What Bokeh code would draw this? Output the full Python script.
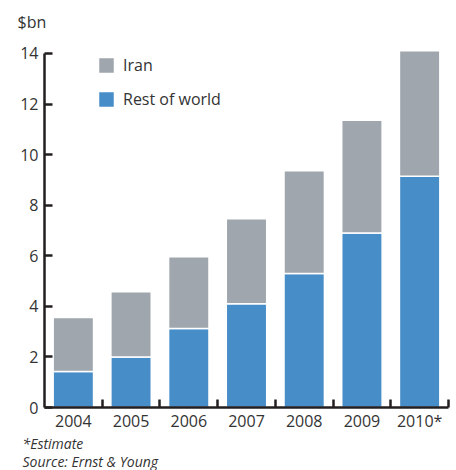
from bokeh.plotting import figure
from bokeh.models import (Range1d, FixedTicker, Legend, LegendItem, Title,
                          ColumnDataSource)
from bokeh.embed import file_html
from bokeh.resources import INLINE

# Investment by year, $bn
years = ["2004", "2005", "2006", "2007", "2008", "2009", "2010*"]
rest_of_world = [1.42, 2.0, 3.12, 4.1, 5.3, 6.9, 9.14]
iran = [2.14, 2.58, 2.84, 3.36, 4.06, 4.46, 4.97]
y_ticks = [0, 2, 4, 6, 8, 10, 12, 14]

GREY = "#9fa6ad"
BLUE = "#478dc8"
INK = "#231f20"
TEXT = "#333333"
FONT = "Open Sans"

n = len(years)
centers = [i + 0.5 for i in range(n)]
bounds = [i + 1 for i in range(n)]

src = ColumnDataSource(dict(x=centers, rest=rest_of_world, iran=iran))

p = figure(width=456, height=470, output_backend="svg", toolbar_location=None,
           x_range=Range1d(0, n), y_range=Range1d(0, 14.59),
           min_border_left=44, min_border_right=8, min_border_top=38,
           min_border_bottom=0)

rs = p.vbar_stack(["rest", "iran"], x="x", width=0.7, source=src,
                  color=[BLUE, GREY], line_color="white", line_width=1.5)

p.title.text = "$bn"
p.title.align = "left"
p.title.offset = -27
p.title.text_font = FONT
p.title.text_font_size = "16px"
p.title.text_font_style = "normal"
p.title.text_color = TEXT
p.title.standoff = 11

p.grid.visible = False
p.outline_line_color = None

# x axis: labels at bar centres, small upward ticks between the years
xa = p.xaxis[0]
xa.ticker = FixedTicker(ticks=centers, minor_ticks=bounds)
xa.major_label_overrides = {c: y for c, y in zip(centers, years)}
xa.major_tick_in = 0
xa.major_tick_out = 0
xa.minor_tick_in = 8
xa.minor_tick_out = 0
xa.minor_tick_line_color = INK
xa.minor_tick_line_width = 2.5
xa.axis_line_color = INK
xa.axis_line_width = 2.5
xa.major_label_text_font = FONT
xa.major_label_text_font_size = "16px"
xa.major_label_text_color = TEXT
xa.major_label_standoff = 2

ya = p.yaxis[0]
ya.ticker = FixedTicker(ticks=y_ticks)
ya.bounds = (0, 14)
ya.major_tick_in = 8
ya.major_tick_out = 0
ya.minor_tick_in = 0
ya.minor_tick_out = 0
ya.major_tick_line_color = INK
ya.major_tick_line_width = 2.5
ya.axis_line_color = INK
ya.axis_line_width = 2.5
ya.major_label_text_font = FONT
ya.major_label_text_font_size = "16px"
ya.major_label_text_color = TEXT
ya.major_label_standoff = 6

legend = Legend(items=[LegendItem(label="Iran", renderers=[rs[1]]),
                       LegendItem(label="Rest of world", renderers=[rs[0]])],
                location=(52, 297), padding=0, margin=0, spacing=12,
                glyph_width=20, glyph_height=20, label_height=20,
                label_standoff=7, border_line_color=None,
                background_fill_alpha=0, label_text_font=FONT,
                label_text_font_size="16px", label_text_color=TEXT)
p.add_layout(legend, "center")

# footnote lines under the axis
for txt, gap in [("*Estimate", -6), ("Source: Ernst & Young", 0)]:
    t = Title(text=txt, align="left", offset=-22, text_font=FONT,
              text_font_size="14px", text_font_style="italic",
              text_color=TEXT, standoff=gap)
    p.add_layout(t, "below")

open("out.html", "w").write(file_html(p, INLINE))
